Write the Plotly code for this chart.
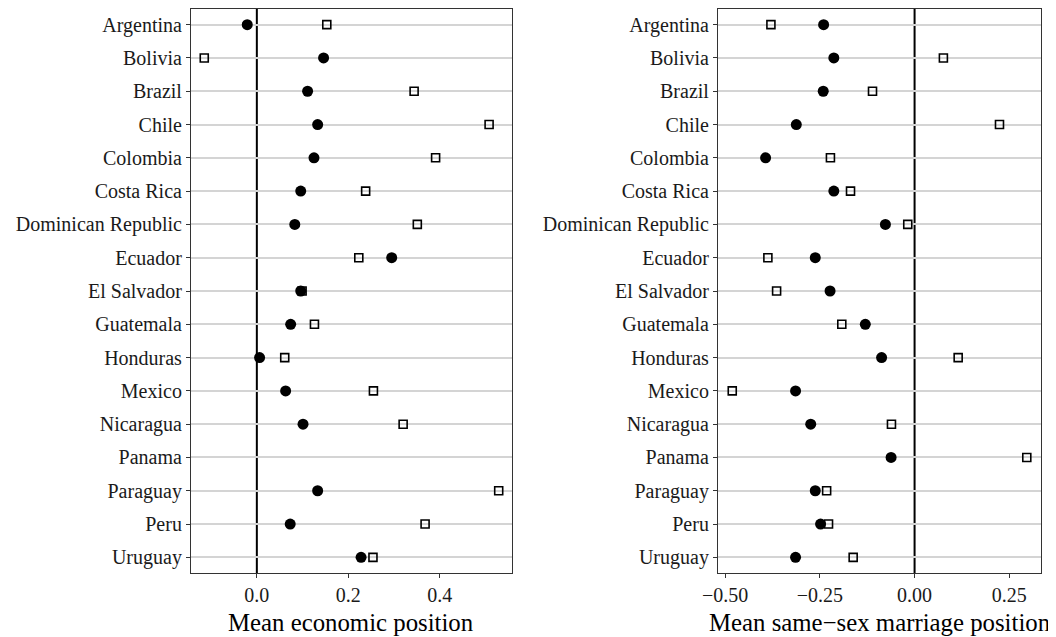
import plotly.graph_objects as go

countries = ["Argentina", "Bolivia", "Brazil", "Chile", "Colombia", "Costa Rica",
             "Dominican Republic", "Ecuador", "El Salvador", "Guatemala", "Honduras",
             "Mexico", "Nicaragua", "Panama", "Paraguay", "Peru", "Uruguay"]

econ_circle = [-0.021, 0.146, 0.111, 0.133, 0.125, 0.096, 0.083, 0.295, 0.096,
               0.074, 0.006, 0.063, 0.101, None, 0.133, 0.073, 0.228]
econ_square = [0.153, -0.115, 0.344, 0.508, 0.391, 0.238, 0.351, 0.223, 0.099,
               0.126, 0.061, 0.255, 0.320, None, 0.529, 0.368, 0.254]

ssm_circle = [-0.240, -0.213, -0.241, -0.312, -0.393, -0.213, -0.077, -0.262, -0.223,
              -0.130, -0.087, -0.314, -0.274, -0.062, -0.262, -0.248, -0.314]
ssm_square = [-0.379, 0.076, -0.111, 0.224, -0.222, -0.169, -0.018, -0.387, -0.364,
              -0.192, 0.115, -0.481, -0.061, 0.296, -0.232, -0.227, -0.162]

x1_ticks = [0.0, 0.2, 0.4]
x1_labels = ["0.0", "0.2", "0.4"]
x2_ticks = [-0.5, -0.25, 0.0, 0.25]
x2_labels = ["\u22120.50", "\u22120.25", "0.00", "0.25"]
x_titles = ["Mean economic position", "Mean same\u2212sex marriage position"]

FONT = "Liberation Serif"
TICK_SIZE = 20
TITLE_SIZE = 24.8

fig = go.Figure()

def add_panel(circ, sq, xa, ya):
    fig.add_trace(go.Scatter(x=circ, y=countries, mode="markers", xaxis=xa, yaxis=ya,
                             marker=dict(symbol="circle", size=11, color="black",
                                         line=dict(width=0)),
                             name="circle", showlegend=False, cliponaxis=False))
    fig.add_trace(go.Scatter(x=sq, y=countries, mode="markers", xaxis=xa, yaxis=ya,
                             marker=dict(symbol="square-open", size=8, color="black",
                                         line=dict(width=1.6)),
                             name="square", showlegend=False, cliponaxis=False))

add_panel(econ_circle, econ_square, "x", "y")
add_panel(ssm_circle, ssm_square, "x2", "y2")

# zero reference lines
fig.add_shape(type="line", xref="x", yref="y domain", x0=0, x1=0, y0=0, y1=1,
              line=dict(color="black", width=2), layer="below")
fig.add_shape(type="line", xref="x2", yref="y2 domain", x0=0, x1=0, y0=0, y1=1,
              line=dict(color="black", width=2), layer="below")

# axis titles placed below tick labels
for xd, t in zip(["x domain", "x2 domain"], x_titles):
    fig.add_annotation(text=t, xref=xd, yref="paper", x=0.5, y=0,
                       xanchor="center", yanchor="middle", yshift=-49,
                       showarrow=False,
                       font=dict(family=FONT, size=TITLE_SIZE, color="black"))

yax = dict(type="category", categoryorder="array", categoryarray=countries,
           autorange=False, range=[len(countries) - 1 + 0.47, -0.47],
           showgrid=True, gridcolor="#d4d4d4", gridwidth=2,
           ticks="outside", ticklen=4, tickwidth=1.2, tickcolor="#333333",
           showline=True, linecolor="#333333", linewidth=1.2, mirror=True,
           zeroline=False, tickfont=dict(family=FONT, size=TICK_SIZE, color="#1a1a1a"))

xax_common = dict(showgrid=False, zeroline=False, ticks="outside", ticklen=4,
                  tickwidth=1.2, tickcolor="#333333", showline=True,
                  linecolor="#333333", linewidth=1.2, mirror=True,
                  tickfont=dict(family=FONT, size=TICK_SIZE, color="#1a1a1a"))

# page body has an 8px margin, so the figure is offset by 8px
fig.update_layout(
    width=1048, height=629,
    margin=dict(l=183, r=15, t=1, b=64),
    paper_bgcolor="white", plot_bgcolor="white",
    showlegend=False,
    xaxis=dict(domain=[0, 0.3776], range=[-0.144, 0.558], tickvals=x1_ticks,
               ticktext=x1_labels, **xax_common),
    xaxis2=dict(domain=[0.62, 1.0], range=[-0.5186, 0.3335], tickvals=x2_ticks,
                ticktext=x2_labels, anchor="y2", **xax_common),
    yaxis=dict(domain=[0, 1], anchor="x", **yax),
    yaxis2=dict(domain=[0, 1], anchor="x2", **yax),
)

fig.write_html("out.html")
